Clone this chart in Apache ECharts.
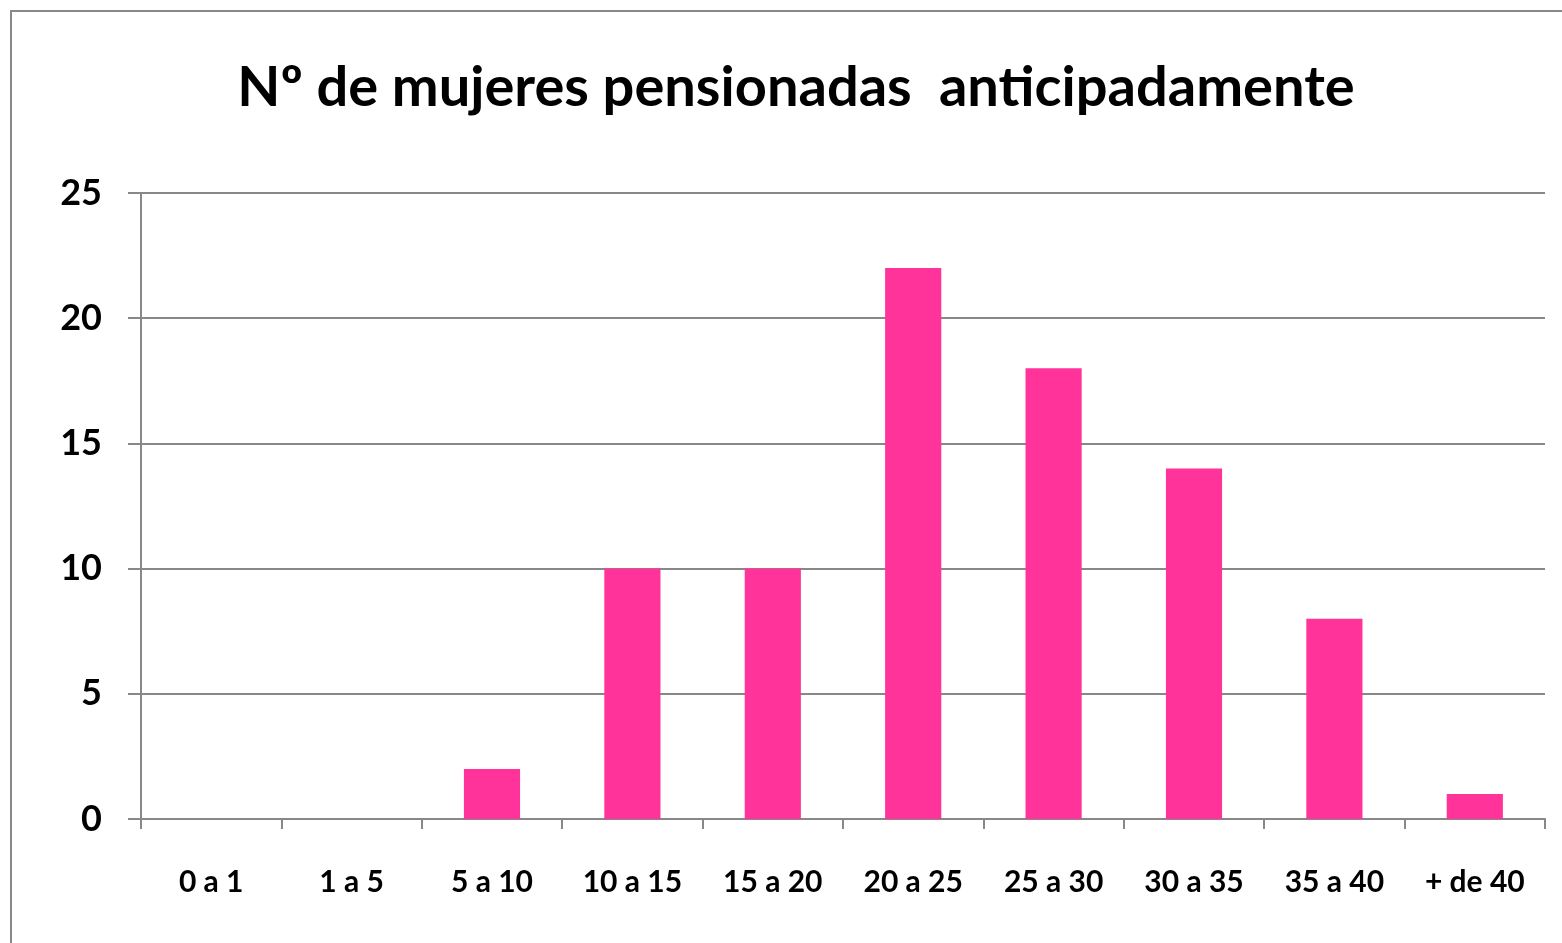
<!DOCTYPE html>
<html>
<head>
<meta charset="utf-8">
<script src="https://cdn.jsdelivr.net/npm/echarts@6/dist/echarts.min.js"></script>
<style>
  html, body { margin: 0; padding: 0; background: #fff; }
  #chart { width: 1562px; height: 943px; }
</style>
</head>
<body>
<div id="chart"></div>
<script>
const categories = ['0 a 1', '1 a 5', '5 a 10', '10 a 15', '15 a 20', '20 a 25', '25 a 30', '30 a 35', '35 a 40', '+ de 40'];
const mujeres = [0, 0, 2, 10, 10, 22, 18, 14, 8, 1];

const chart = echarts.init(document.getElementById('chart'));
const font = 'Lato, "Open Sans", sans-serif';

chart.setOption({
    animation: false,
    backgroundColor: '#fff',
    graphic: [{
        type: 'rect',
        shape: { x: 11, y: 11, width: 1600, height: 1000 },
        style: { fill: 'none', stroke: '#888', lineWidth: 2 },
        silent: true
    }],
    title: {
        text: 'Nº de mujeres pensionadas  anticipadamente',
        left: 791,
        textAlign: 'center',
        top: 55,
        textStyle: { fontFamily: font, fontWeight: 'bold', fontSize: 56, color: '#000' }
    },
    grid: { left: 141, top: 193, right: 17, bottom: 124 },
    xAxis: {
        type: 'category',
        data: categories,
        axisLine: { lineStyle: { color: '#888', width: 2 } },
        axisTick: { show: true, length: 10, lineStyle: { color: '#888', width: 2 } },
        axisLabel: { margin: 48, fontFamily: font, fontWeight: 'bold', fontSize: 30, color: '#000' }
    },
    yAxis: {
        type: 'value',
        min: 0,
        max: 25,
        interval: 5,
        axisLine: { show: true, lineStyle: { color: '#888', width: 2 } },
        axisTick: { show: true, length: 13, lineStyle: { color: '#888', width: 2 } },
        splitLine: { lineStyle: { color: '#888', width: 2 } },
        axisLabel: { margin: 39, fontFamily: font, fontWeight: 'bold', fontSize: 36, color: '#000' }
    },
    series: [{
        type: 'bar',
        data: mujeres,
        barWidth: '40%',
        itemStyle: { color: '#FF3399' }
    }]
});
</script>
</body>
</html>
